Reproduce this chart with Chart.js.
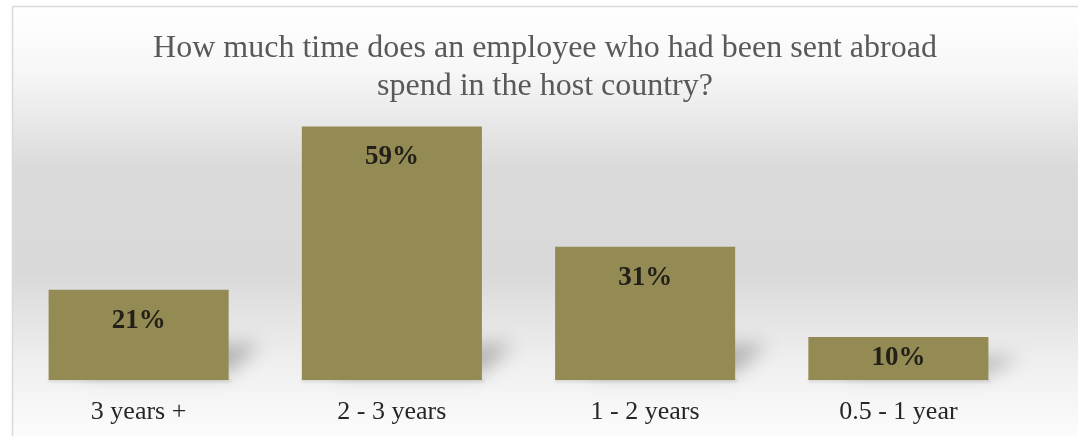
<!DOCTYPE html>
<html>
<head>
    <meta charset="UTF-8">
    <title>Time spent in host country</title>
    <script src="https://cdn.jsdelivr.net/npm/chart.js"></script>
    <style>
        html, body { margin: 0; padding: 0; background: #ffffff; }
        #wrap { width: 1078px; height: 436px; }
    </style>
</head>
<body>
    <div id="wrap"><canvas id="stayChart"></canvas></div>
    <script>
        var categories = ['3 years +', '2 - 3 years', '1 - 2 years', '0.5 - 1 year'];
        var shares = [21, 59, 31, 10];
        var titleLines = ['How much time does an employee who had been sent abroad', 'spend in the host country?'];

        var serif = '"Liberation Serif", "Times New Roman", serif';

        // grey panel with a soft vertical gradient, as in the office chart style
        var panelBackground = {
            id: 'panelBackground',
            beforeDraw: function (chart) {
                var c = chart.ctx;
                var w = chart.width, h = chart.height;
                c.save();
                c.fillStyle = '#ffffff';
                c.fillRect(0, 0, w, h);
                var g = c.createLinearGradient(0, 6, 0, h);
                g.addColorStop(0, '#ffffff');
                g.addColorStop(0.15, '#f7f7f7');
                g.addColorStop(0.38, '#dadada');
                g.addColorStop(0.62, '#d9d9d9');
                g.addColorStop(0.82, '#eeeeee');
                g.addColorStop(1, '#fcfcfc');
                c.fillStyle = g;
                c.fillRect(12, 6, w - 12, h - 6);
                c.strokeStyle = '#d9d9d9';
                c.lineWidth = 1.5;
                c.beginPath();
                c.moveTo(12.5, h);
                c.lineTo(12.5, 6.5);
                c.lineTo(w, 6.5);
                c.stroke();
                c.restore();
            }
        };

        // perspective shadow thrown behind each bar
        var barShadows = {
            id: 'barShadows',
            beforeDatasetsDraw: function (chart) {
                var c = chart.ctx;
                var meta = chart.getDatasetMeta(0);
                c.save();
                c.filter = 'blur(9px)';
                c.fillStyle = 'rgba(0,0,0,0.24)';
                meta.data.forEach(function (bar) {
                    var left = bar.x - bar.width / 2;
                    var right = bar.x + bar.width / 2;
                    var base = bar.base;
                    var rise = Math.min((base - bar.y) * 0.4, 30);
                    c.beginPath();
                    c.moveTo(left + 30, base - 6);
                    c.lineTo(right, base - 6);
                    c.lineTo(right + 32, base - 6 - rise);
                    c.lineTo(left + 62, base - 6 - rise);
                    c.closePath();
                    c.fill();
                });
                c.filter = 'blur(1.5px)';
                c.fillStyle = 'rgba(0,0,0,0.12)';
                meta.data.forEach(function (bar) {
                    c.fillRect(bar.x - bar.width / 2, bar.base - 1, bar.width + 2, 3);
                });
                c.restore();
            }
        };

        // percentage written inside the top of each bar (centred when the bar is short)
        var barValues = {
            id: 'barValues',
            afterDatasetsDraw: function (chart) {
                var c = chart.ctx;
                var meta = chart.getDatasetMeta(0);
                c.save();
                c.font = 'bold 27px ' + serif;
                c.fillStyle = '#222018';
                c.textAlign = 'center';
                c.textBaseline = 'middle';
                meta.data.forEach(function (bar, i) {
                    var offset = Math.min(31, (bar.base - bar.y) / 2);
                    c.fillText(shares[i] + '%', bar.x, bar.y + offset);
                });
                c.restore();
            }
        };

        var ctx = document.getElementById('stayChart').getContext('2d');

        var stayChart = new Chart(ctx, {
            type: 'bar',
            data: {
                labels: categories,
                datasets: [{
                    data: shares,
                    backgroundColor: '#948a54',
                    borderWidth: 0,
                    categoryPercentage: 1,
                    barPercentage: 0.711
                }]
            },
            options: {
                responsive: true,
                maintainAspectRatio: false,
                animation: false,
                layout: { padding: { left: 12, right: 0, top: 0, bottom: 0 } },
                plugins: {
                    legend: { display: false },
                    tooltip: { enabled: false },
                    title: {
                        display: true,
                        text: titleLines,
                        color: '#595959',
                        font: { family: serif, size: 32, weight: 'normal', lineHeight: 1.2 },
                        padding: { top: 29, bottom: 0 }
                    }
                },
                scales: {
                    x: {
                        grid: { display: false, drawTicks: false },
                        border: { display: false },
                        ticks: {
                            color: '#262626',
                            font: { family: serif, size: 26 },
                            padding: 17
                        },
                        afterFit: function (scale) {
                            scale.height = 56;
                        }
                    },
                    y: {
                        display: false,
                        min: 0,
                        max: 63.8
                    },
                    // empty strip on the right that keeps the bars off the edge
                    spacer: {
                        position: 'right',
                        grid: { display: false },
                        border: { display: false },
                        ticks: { display: false },
                        afterFit: function (scale) {
                            scale.width = 53;
                        }
                    }
                }
            },
            plugins: [panelBackground, barShadows, barValues]
        });
    </script>
</body>
</html>
